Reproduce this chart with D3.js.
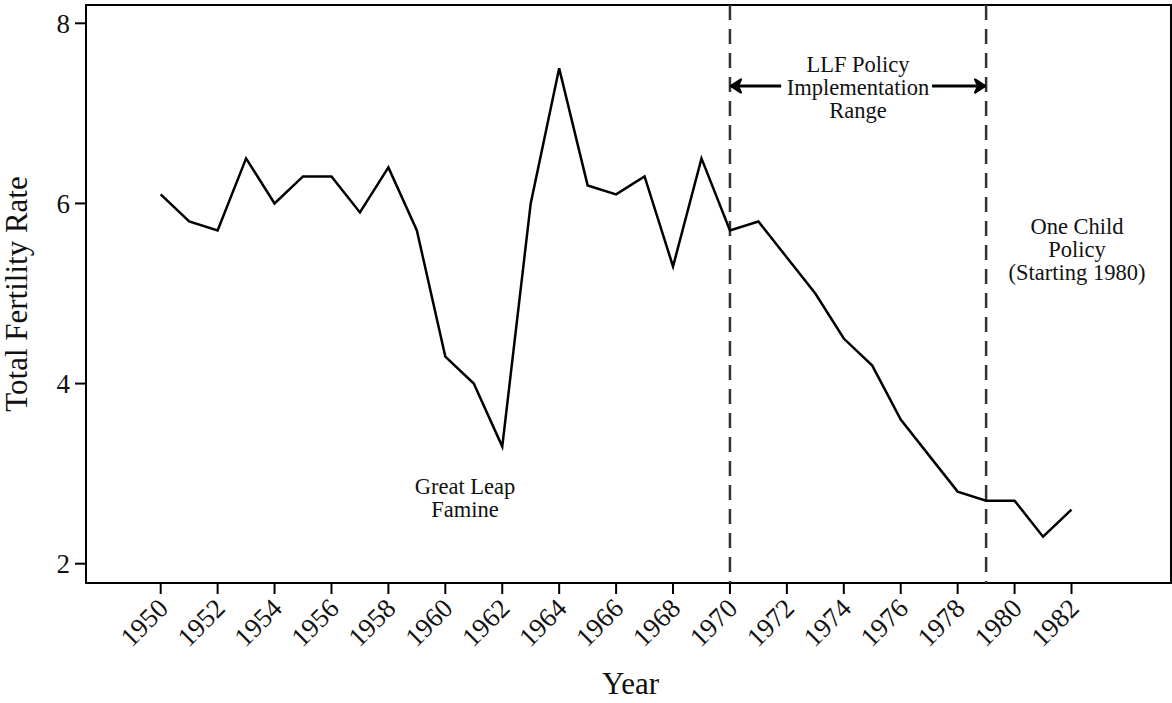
<!DOCTYPE html>
<html lang="en">
<head>
<meta charset="utf-8">
<title>Total Fertility Rate, China 1950-1982</title>
<script src="https://d3js.org/d3.v7.min.js"></script>
<style>
  body { margin: 0; background: #fff; }
  svg text { font-family: 'Liberation Serif', 'Times New Roman', serif; fill: #111; }
  .tick-label { font-size: 27px; }
  .axis-title { font-size: 31px; }
  .note { font-size: 22.5px; }
</style>
</head>
<body>
<div id="chart"></div>
<script>

// data
var years = d3.range(1950, 1983);
var tfr = [6.1, 5.8, 5.7, 6.5, 6.0, 6.3, 6.3, 5.9, 6.4, 5.7,
           4.3, 4.0, 3.3, 6.0, 7.5, 6.2, 6.1, 6.3, 5.3, 6.5,
           5.7, 5.8, 5.4, 5.0, 4.5, 4.2, 3.6, 3.2, 2.8, 2.7,
           2.7, 2.3, 2.6];
var yTicks = [2, 4, 6, 8];
var xTicks = d3.range(1950, 1983, 2);
var policyLines = [1970, 1979];

var width = 1172, height = 703;
// plot box
var box = {left: 86, top: 5, right: 1171, bottom: 583};

var svg = d3.select("#chart")
  .append("svg")
    .attr("width", width)
    .attr("height", height);

var x = d3.scaleLinear()
  .domain([1950, 1982])
  .range([160.7, 1071.5]);

var y = d3.scaleLinear()
  .domain([2, 8])
  .range([563.7, 23.3]);

// frame
svg.append("rect")
  .attr("x", box.left)
  .attr("y", box.top)
  .attr("width", box.right - box.left)
  .attr("height", box.bottom - box.top)
  .attr("fill", "none")
  .attr("stroke", "#000")
  .attr("stroke-width", 2);

// y ticks
var yAxis = svg.append("g");
yAxis.selectAll("line")
  .data(yTicks)
  .enter()
  .append("line")
    .attr("x1", box.left - 11)
    .attr("x2", box.left)
    .attr("y1", function(d) { return y(d) })
    .attr("y2", function(d) { return y(d) })
    .attr("stroke", "#000")
    .attr("stroke-width", 2);
yAxis.selectAll("text")
  .data(yTicks)
  .enter()
  .append("text")
    .attr("class", "tick-label")
    .attr("x", box.left - 16)
    .attr("y", function(d) { return y(d) })
    .attr("dy", "0.35em")
    .attr("text-anchor", "end")
    .text(function(d) { return d });

// x ticks
var xAxis = svg.append("g");
xAxis.selectAll("line")
  .data(xTicks)
  .enter()
  .append("line")
    .attr("x1", function(d) { return x(d) })
    .attr("x2", function(d) { return x(d) })
    .attr("y1", box.bottom)
    .attr("y2", box.bottom + 11)
    .attr("stroke", "#000")
    .attr("stroke-width", 2);
xAxis.selectAll("text")
  .data(xTicks)
  .enter()
  .append("text")
    .attr("class", "tick-label")
    .attr("text-anchor", "end")
    .attr("transform", function(d) {
      return "translate(" + (x(d) + 9) + "," + (box.bottom + 27) + ") rotate(-45)";
    })
    .text(function(d) { return d });

// axis titles
svg.append("text")
  .attr("class", "axis-title")
  .attr("text-anchor", "middle")
  .attr("transform", "translate(27," + ((box.top + box.bottom) / 2) + ") rotate(-90)")
  .text("Total Fertility Rate");

svg.append("text")
  .attr("class", "axis-title")
  .attr("text-anchor", "middle")
  .attr("x", (box.left + box.right) / 2 + 2)
  .attr("y", 694)
  .text("Year");

// dashed policy lines
svg.selectAll(".policy")
  .data(policyLines)
  .enter()
  .append("line")
    .attr("class", "policy")
    .attr("x1", function(d) { return x(d) })
    .attr("x2", function(d) { return x(d) })
    .attr("y1", box.top)
    .attr("y2", box.bottom)
    .attr("stroke", "#333")
    .attr("stroke-width", 2.5)
    .attr("stroke-dasharray", "15,9");

// the series
svg.append("path")
  .datum(years)
  .attr("fill", "none")
  .attr("stroke", "#000")
  .attr("stroke-width", 2.5)
  .attr("stroke-linejoin", "miter")
  .attr("d", d3.line()
    .x(function(d) { return x(d) })
    .y(function(d, i) { return y(tfr[i]) })
  );

// arrow between the policy lines
var defs = svg.append("defs");
defs.append("marker")
  .attr("id", "head")
  .attr("viewBox", "0 0 14 16")
  .attr("refX", 12)
  .attr("refY", 8)
  .attr("markerWidth", 14)
  .attr("markerHeight", 16)
  .attr("markerUnits", "userSpaceOnUse")
  .attr("orient", "auto")
  .append("path")
    .attr("d", "M2,1.5 L12,8 L2,14.5 L5,8 Z")
    .attr("fill", "#000")
    .attr("stroke", "#000")
    .attr("stroke-width", 2.2)
    .attr("stroke-linejoin", "round");

var arrowY = 86;
svg.append("line")
  .attr("x1", x(1971.8))
  .attr("x2", x(1970) + 1)
  .attr("y1", arrowY).attr("y2", arrowY)
  .attr("stroke", "#000").attr("stroke-width", 3)
  .attr("marker-end", "url(#head)");
svg.append("line")
  .attr("x1", x(1977.1))
  .attr("x2", x(1979) - 1)
  .attr("y1", arrowY).attr("y2", arrowY)
  .attr("stroke", "#000").attr("stroke-width", 3)
  .attr("marker-end", "url(#head)");

// annotations
function note(lines, cx, firstBaseline) {
  var t = svg.append("text")
    .attr("class", "note")
    .attr("text-anchor", "middle");
  lines.forEach(function(s, i) {
    t.append("tspan")
      .attr("x", cx)
      .attr("y", firstBaseline + i * 23)
      .text(s);
  });
}

note(["LLF Policy", "Implementation", "Range"], (x(1970) + x(1979)) / 2, 72);
note(["One Child", "Policy", "(Starting 1980)"], 1077, 234);
note(["Great Leap", "Famine"], 465, 494);

</script>
</body>
</html>
